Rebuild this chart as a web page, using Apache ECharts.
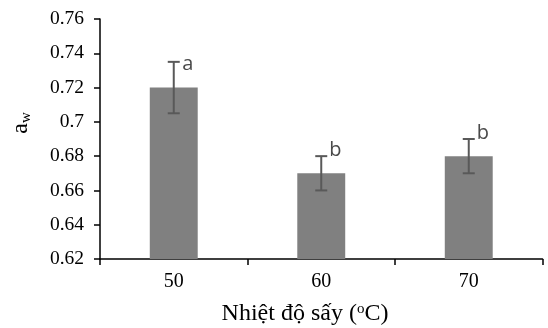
<!DOCTYPE html>
<html>
<head>
<meta charset="utf-8">
<script src="https://cdn.jsdelivr.net/npm/echarts@6/dist/echarts.min.js"></script>
<style>html,body{margin:0;padding:0;background:#fff}#c{width:548px;height:328px}</style>
</head>
<body>
<div id="c"></div>
<script>
var categories = ['50', '60', '70'];
var values = [0.72, 0.67, 0.68];
var errLow = [0.705, 0.66, 0.67];
var errHigh = [0.735, 0.68, 0.69];
var letters = ['a', 'b', 'b'];
var yTicks = { min: 0.62, max: 0.76, interval: 0.02 };

var chart = echarts.init(document.getElementById('c'), null, { renderer: 'canvas' });
var errData = categories.map(function (c, i) { return [i, errLow[i], errHigh[i], values[i]]; });

var option = {
  animation: false,
  grid: { left: 100, right: 5.5, top: 19, bottom: 69 },
  xAxis: {
    type: 'category',
    data: categories,
    axisLine: { lineStyle: { color: '#000', width: 1.5 } },
    axisTick: { show: true, length: 6, lineStyle: { color: '#000', width: 1.5 } },
    axisLabel: { color: '#000', fontFamily: 'Liberation Serif', fontSize: 20, margin: 13 }
  },
  yAxis: {
    type: 'value',
    min: yTicks.min, max: yTicks.max, interval: yTicks.interval,
    axisLine: { show: true, lineStyle: { color: '#000', width: 1.5 } },
    axisTick: { show: true, length: 6, lineStyle: { color: '#000', width: 1.5 } },
    splitLine: { show: false },
    axisLabel: { color: '#000', fontFamily: 'Liberation Serif', fontSize: 19.5, margin: 16,
      formatter: function (v) { return String(+v.toFixed(2)); } }
  },
  series: [
    {
      type: 'bar',
      data: values,
      barWidth: '32.5%',
      itemStyle: { color: '#808080' }
    },
    {
      type: 'custom',
      data: errData,
      z: 10,
      renderItem: function (params, api) {
        var x = api.value(0);
        var lo = api.coord([x, api.value(1)]);
        var hi = api.coord([x, api.value(2)]);
        var top = api.coord([x, api.value(3)]);
        var hw = 6;
        var st = { stroke: '#595959', lineWidth: 2 };
        return {
          type: 'group',
          children: [
            { type: 'line', shape: { x1: hi[0], y1: hi[1], x2: lo[0], y2: lo[1] }, style: st },
            { type: 'line', shape: { x1: hi[0] - hw, y1: hi[1], x2: hi[0] + hw, y2: hi[1] }, style: st },
            { type: 'line', shape: { x1: lo[0] - hw, y1: lo[1], x2: lo[0] + hw, y2: lo[1] }, style: st },
            { type: 'text', style: { text: letters[params.dataIndex], x: top[0] + 14, y: top[1] - 23,
              align: 'center', verticalAlign: 'middle', fill: '#4a4a4a',
              font: '20px "Open Sans"' } }
          ]
        };
      }
    }
  ],
  graphic: [
    {
      type: 'text',
      x: 21, y: 123,
      rotation: Math.PI / 2,
      style: {
        text: '{a|a}{w|w}',
        align: 'center', verticalAlign: 'middle',
        rich: {
          a: { fontFamily: 'Liberation Serif', fontSize: 24, fill: '#000', color: '#000' },
          w: { fontFamily: 'Liberation Serif', fontSize: 15, fill: '#000', color: '#000', verticalAlign: 'bottom', padding: [10, 0, 0, 0] }
        }
      }
    },
    {
      type: 'text',
      x: 305, y: 314,
      style: {
        text: '{t|Nhiệt độ sấy (}{s|o}{t|C)}',
        align: 'center', verticalAlign: 'middle',
        rich: {
          t: { fontFamily: 'Liberation Serif', fontSize: 24, fill: '#000', color: '#000' },
          s: { fontFamily: 'Liberation Serif', fontSize: 15, fill: '#000', color: '#000', verticalAlign: 'top', padding: [0, 0, 8, 0] }
        }
      }
    }
  ]
};
chart.setOption(option);
</script>
</body>
</html>
